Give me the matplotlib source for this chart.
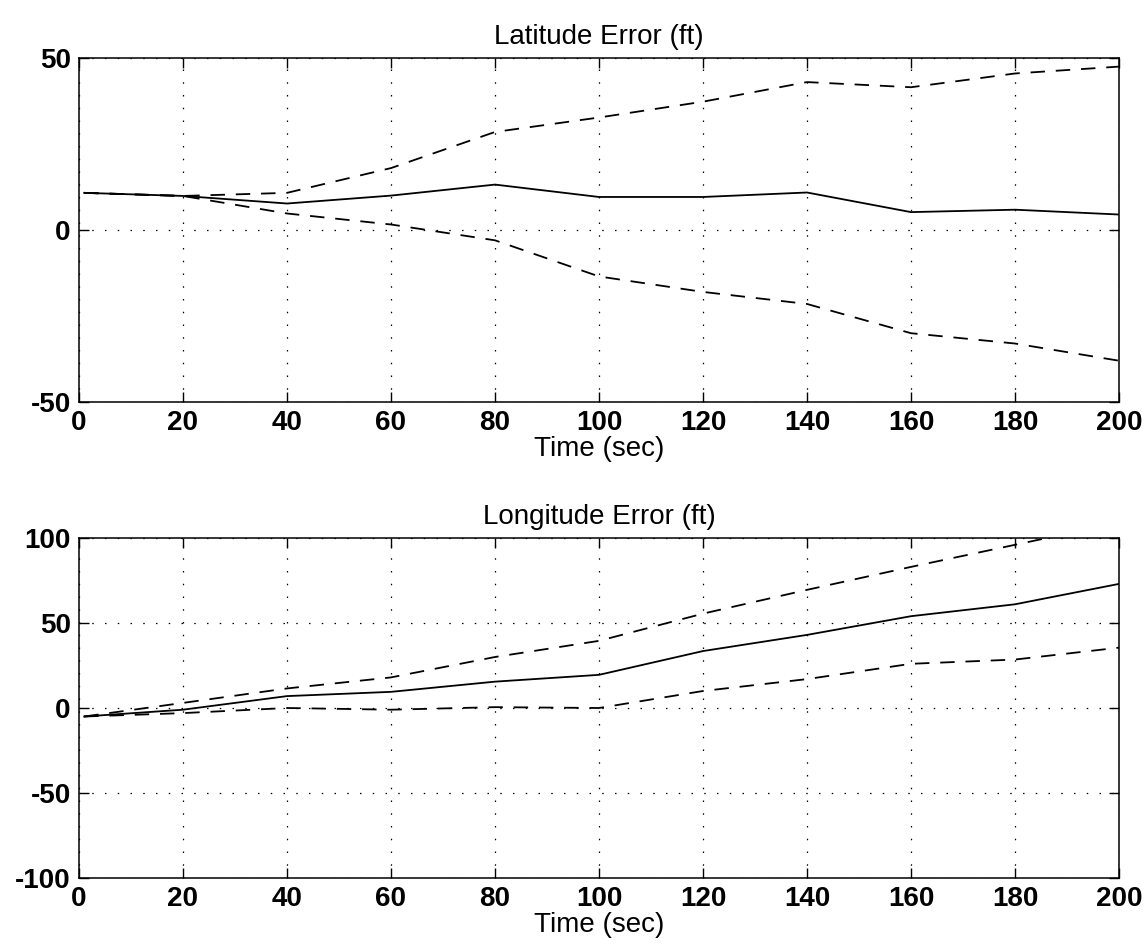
import matplotlib
matplotlib.use("Agg")
import matplotlib.pyplot as plt

# ---- data ----
time_s = [1, 20, 40, 60, 80, 100, 120, 140, 160, 180, 200]

lat_mean = [10.8, 9.9, 7.7, 10.0, 13.2, 9.6, 9.6, 10.9, 5.2, 5.9, 4.5]
lat_upper = [10.8, 9.9, 10.8, 18.0, 28.5, 32.7, 37.3, 43.0, 41.5, 45.5, 47.5]
lat_lower = [10.8, 9.9, 4.8, 1.6, -3.0, -13.5, -18.0, -21.5, -30.0, -33.0, -38.0]

lon_mean = [-5.0, -1.0, 7.0, 9.5, 15.5, 19.5, 33.5, 43.0, 54.0, 61.0, 73.0]
lon_upper = [-5.0, 3.0, 11.5, 18.0, 30.0, 39.5, 55.5, 69.5, 83.0, 96.0, 109.0]
lon_lower = [-5.0, -3.0, 0.0, -1.0, 0.5, 0.0, 10.0, 17.0, 26.0, 28.5, 35.5]

x_ticks = [0, 20, 40, 60, 80, 100, 120, 140, 160, 180, 200]
lat_yticks = [-50, 0, 50]
lon_yticks = [-100, -50, 0, 50, 100]

titles = ["Latitude Error (ft)", "Longitude Error (ft)"]
xlabel = "Time (sec)"

plt.rcParams['font.family'] = ['Liberation Sans', 'DejaVu Sans']
plt.rcParams['axes.unicode_minus'] = False

W, H = 1148, 947
fig = plt.figure(figsize=(W / 100, H / 100), dpi=100)

def frac(left, top, right, bottom):
    return [left / W, 1 - bottom / H, (right - left) / W, (bottom - top) / H]

ax1 = fig.add_axes(frac(79, 58, 1119, 402))
ax2 = fig.add_axes(frac(79, 538, 1119, 878))

def style(ax, yticks, ylim, title):
    ax.set_xlim(0, 200)
    ax.set_ylim(*ylim)
    ax.set_xticks(x_ticks)
    ax.set_yticks(yticks)
    ax.grid(True, color='black', linestyle=(0, (1.2, 9)), linewidth=0.9)
    ax.tick_params(direction='in', length=7, width=1.0, top=True, right=True,
                   labelsize=20, pad=6, colors='black')
    for lab in ax.get_xticklabels() + ax.get_yticklabels():
        lab.set_fontweight('bold')
    for s in ax.spines.values():
        s.set_linewidth(1.1)
        s.set_color('black')
    ax.set_title(title, fontsize=20, pad=10)
    ax.set_xlabel(xlabel, fontsize=20, labelpad=0)

for ax, m, u, l in [(ax1, lat_mean, lat_upper, lat_lower),
                    (ax2, lon_mean, lon_upper, lon_lower)]:
    ax.plot(time_s, m, color='black', linewidth=1.3, solid_joinstyle='miter')
    ax.plot(time_s, u, color='black', linewidth=1.3, linestyle=(0, (8, 6)))
    ax.plot(time_s, l, color='black', linewidth=1.3, linestyle=(0, (8, 6)))

style(ax1, lat_yticks, (-50, 50), titles[0])
style(ax2, lon_yticks, (-100, 100), titles[1])

fig.savefig("out.png", dpi=100, facecolor='white')
